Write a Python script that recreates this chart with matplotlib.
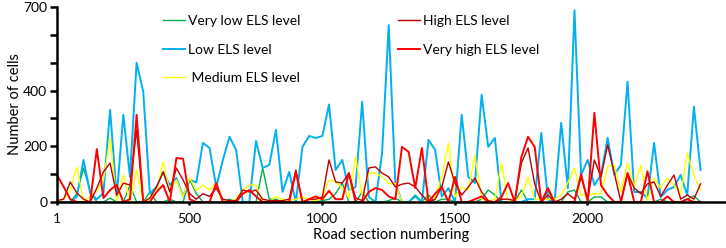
import numpy as np
import matplotlib
matplotlib.use("Agg")
import matplotlib.pyplot as plt

plt.rcParams['font.family'] = ['Lato', 'DejaVu Sans']

# road section numbering (one sample every 25 sections)
road = np.arange(98) * 25 + 1

very_low = [0, 0, 0, 30, 122, 40, 0, 0, 14, 0, 0, 60, 0, 0, 36, 0, 0, 10, 0, 0,
            80, 30, 0, 0, 0, 0, 10, 0, 0, 0, 0, 122, 10, 10, 0, 0, 0, 0, 0, 0,
            5, 10, 30, 68, 0, 0, 36, 0, 0, 0, 5, 14, 0, 0, 25, 0, 25, 0, 10, 10,
            0, 0, 0, 0, 10, 43, 25, 0, 0, 0, 43, 0, 0, 0, 40, 0, 0, 36, 43, 0,
            0, 18, 18, 0, 0, 0, 0, 0, 0, 0, 0, 10, 0, 0, 0, 10, 22, 0]

low = [0, 0, 0, 20, 151, 32, 10, 32, 331, 20, 313, 90, 500, 396, 30, 54, 108, 61, 86, 20,
       80, 70, 212, 194, 54, 151, 234, 187, 0, 0, 219, 122, 133, 259, 36, 108, 0, 198, 237, 230,
       237, 350, 115, 151, 43, 54, 360, 18, 0, 176, 635, 68, 0, 0, 20, 0, 223, 187, 20, 50,
       0, 313, 90, 68, 385, 198, 230, 0, 0, 0, 0, 10, 10, 248, 10, 0, 284, 50, 688, 97,
       151, 61, 97, 230, 97, 133, 432, 36, 36, 14, 212, 18, 43, 54, 97, 25, 342, 115]

medium = [0, 10, 43, 126, 0, 20, 40, 79, 230, 0, 97, 0, 115, 0, 10, 36, 144, 36, 79, 20,
          86, 40, 61, 43, 68, 10, 0, 10, 43, 61, 61, 0, 0, 20, 10, 5, 10, 18, 10, 5,
          14, 79, 72, 50, 14, 162, 25, 104, 104, 90, 66, 66, 0, 0, 0, 0, 10, 18, 90, 212,
          18, 54, 43, 169, 10, 5, 10, 140, 0, 5, 20, 90, 10, 10, 10, 10, 25, 70, 122, 25,
          25, 30, 30, 126, 133, 36, 140, 54, 133, 5, 86, 50, 86, 61, 25, 176, 97, 43]

high = [5, 10, 72, 32, 10, 0, 50, 108, 140, 25, 68, 61, 259, 0, 14, 54, 108, 36, 122, 79,
        30, 10, 30, 20, 50, 10, 5, 5, 43, 36, 43, 10, 5, 5, 5, 10, 115, 0, 10, 10,
        18, 151, 72, 68, 104, 15, 5, 122, 126, 104, 90, 54, 64, 68, 54, 25, 0, 10, 54, 144,
        68, 25, 54, 86, 36, 5, 0, 10, 10, 5, 140, 194, 65, 0, 25, 0, 10, 30, 10, 90,
        10, 151, 90, 205, 104, 0, 104, 50, 30, 65, 72, 20, 60, 97, 10, 25, 10, 65]

very_high = [97, 55, 10, 0, 0, 0, 190, 14, 43, 61, 0, 10, 313, 0, 0, 36, 61, 0, 158, 155,
             10, 0, 0, 0, 68, 0, 0, 0, 30, 43, 20, 0, 0, 0, 0, 0, 108, 0, 10, 20,
             10, 40, 10, 10, 104, 0, 0, 36, 50, 43, 20, 10, 198, 180, 50, 194, 0, 30, 54, 0,
             90, 0, 0, 10, 20, 0, 0, 18, 68, 0, 162, 234, 198, 0, 50, 0, 0, 0, 0, 100,
             0, 320, 60, 25, 0, 0, 104, 0, 0, 110, 0, 0, 20, 0, 0, 10, 0, 0]

fig = plt.figure(figsize=(7.26, 2.48), dpi=100)
ax = fig.add_axes([57/726, 1 - 202/248, 1 - 57/726, 195/248])

ax.plot(road, very_low, color='#00B050', lw=1.0, label='Very low ELS level')
ax.plot(road, low, color='#00B0F0', lw=1.4, label='Low ELS level')
ax.plot(road, medium, color='#FFFF00', lw=1.0, label=' Medium ELS level')
ax.plot(road, high, color='#C00000', lw=1.0, label='High ELS level')
ax.plot(road, very_high, color='#FF0000', lw=1.4, label='Very high ELS level')

ax.set_xlim(1, 2522)
ax.set_ylim(0, 700)
ax.set_yticks(np.arange(0, 701, 100))
ax.set_yticklabels(['0', '', '200', '', '400', '', '', '700'])
ax.set_xticks([1, 500, 1000, 1500, 2000])
ax.set_xticklabels(['1', '500', '1000', '1500', '2000'])

for s in ['top', 'right']:
    ax.spines[s].set_visible(False)
for s in ['left', 'bottom']:
    ax.spines[s].set_linewidth(1.8)
ax.tick_params(axis='y', length=5, width=1.8, labelsize=10, pad=2)
ax.tick_params(axis='x', length=2, width=1.8, labelsize=10, pad=6)

ax.set_xlabel('Road section numbering', fontsize=10.5, labelpad=2)
ax.set_ylabel('Number of cells', fontsize=10.5, labelpad=1)

ax.legend(ncol=2, loc='upper left', bbox_to_anchor=(163/726, 1 - 15/248),
          bbox_transform=fig.transFigure, frameon=False, fontsize=10,
          handlelength=1.6, handletextpad=0.2, columnspacing=7.0,
          labelspacing=1.2, borderpad=0, borderaxespad=0)

fig.savefig('out.png', dpi=100)
